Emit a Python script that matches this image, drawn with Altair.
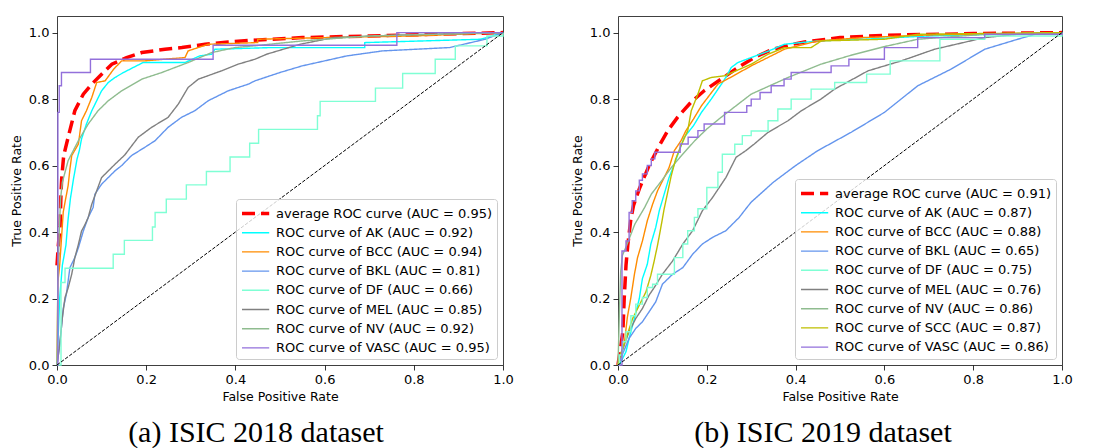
import altair as alt
import pandas as pd

# ---------------- (a) ISIC 2018 ----------------
L_LABELS = ["average ROC curve (AUC = 0.95)", "ROC curve of AK (AUC = 0.92)",
            "ROC curve of BCC (AUC = 0.94)", "ROC curve of BKL (AUC = 0.81)",
            "ROC curve of DF (AUC = 0.66)", "ROC curve of MEL (AUC = 0.85)",
            "ROC curve of NV (AUC = 0.92)", "ROC curve of VASC (AUC = 0.95)"]
L_COLORS = ["#ff0000", "#00ffff", "#ff8c00", "#6495ed", "#7fffd4", "#808080", "#8fbc8f", "#9370db"]
L_STEP = [False, False, False, False, True, False, False, True]

L_AVG_X = [0.0, 0.003, 0.007, 0.009, 0.0105, 0.015, 0.025, 0.04, 0.059, 0.078, 0.1, 0.123, 0.156, 0.19, 0.242, 0.28, 0.332, 0.384, 0.436, 0.55, 0.7, 0.85, 1.0]
L_AVG_Y = [0.3, 0.36, 0.42, 0.52, 0.56, 0.63, 0.685, 0.765, 0.815, 0.845, 0.875, 0.905, 0.925, 0.94, 0.95, 0.955, 0.965, 0.972, 0.977, 0.985, 0.99, 0.995, 1.0]
L_AK_X = [0, 0.003, 0.006, 0.012, 0.02, 0.025, 0.03, 0.037, 0.045, 0.05, 0.055, 0.066, 0.078, 0.089, 0.1, 0.115, 0.13, 0.149, 0.193, 0.287, 0.32, 0.347, 0.354, 0.48, 0.69, 0.69, 0.95, 1]
L_AK_Y = [0, 0.1, 0.2, 0.3, 0.36, 0.44, 0.5, 0.56, 0.62, 0.645, 0.68, 0.725, 0.765, 0.795, 0.825, 0.85, 0.865, 0.88, 0.91, 0.91, 0.93, 0.935, 0.95, 0.955, 0.955, 0.97, 0.98, 1]
L_BCC_X = [0, 0.002, 0.006, 0.01, 0.014, 0.018, 0.025, 0.029, 0.033, 0.048, 0.055, 0.066, 0.078, 0.089, 0.108, 0.127, 0.145, 0.197, 0.287, 0.294, 0.339, 0.45, 0.45, 0.6, 0.8, 1]
L_BCC_Y = [0, 0.25, 0.3, 0.38, 0.46, 0.49, 0.54, 0.59, 0.63, 0.665, 0.735, 0.765, 0.805, 0.85, 0.855, 0.89, 0.915, 0.915, 0.925, 0.945, 0.965, 0.97, 0.98, 0.985, 0.99, 1]
L_BKL_X = [0, 0.005, 0.009, 0.014, 0.021, 0.029, 0.04, 0.048, 0.059, 0.07, 0.081, 0.085, 0.1, 0.115, 0.13, 0.145, 0.167, 0.197, 0.22, 0.249, 0.279, 0.309, 0.339, 0.384, 0.429, 0.444, 0.5, 0.55, 0.65, 0.73, 0.88, 0.96, 1]
L_BKL_Y = [0, 0.05, 0.1, 0.17, 0.213, 0.293, 0.323, 0.353, 0.403, 0.444, 0.474, 0.514, 0.544, 0.564, 0.584, 0.6, 0.63, 0.655, 0.675, 0.715, 0.745, 0.765, 0.795, 0.825, 0.845, 0.855, 0.88, 0.9, 0.93, 0.945, 0.955, 0.98, 1]
L_DF_X = [0, 0.009, 0.018, 0.126, 0.151, 0.214, 0.22, 0.245, 0.29, 0.335, 0.388, 0.432, 0.452, 0.584, 0.59, 0.714, 0.775, 0.848, 0.893, 0.964, 1.0]
L_DF_Y = [0, 0.248, 0.291, 0.333, 0.375, 0.415, 0.459, 0.499, 0.542, 0.582, 0.626, 0.667, 0.709, 0.75, 0.793, 0.833, 0.877, 0.92, 0.96, 0.99, 1.0]
L_MEL_X = [0, 0.005, 0.009, 0.012, 0.018, 0.025, 0.033, 0.04, 0.048, 0.055, 0.063, 0.07, 0.078, 0.089, 0.1, 0.115, 0.13, 0.152, 0.182, 0.212, 0.249, 0.272, 0.294, 0.317, 0.369, 0.406, 0.444, 0.47, 0.545, 0.62, 0.77, 1]
L_MEL_Y = [0, 0.05, 0.1, 0.143, 0.203, 0.232, 0.273, 0.323, 0.363, 0.403, 0.423, 0.444, 0.484, 0.524, 0.564, 0.584, 0.604, 0.632, 0.685, 0.715, 0.745, 0.785, 0.835, 0.86, 0.885, 0.905, 0.92, 0.935, 0.965, 0.985, 0.993, 1]
L_NV_X = [0, 0.002, 0.005, 0.008, 0.012, 0.025, 0.048, 0.07, 0.092, 0.115, 0.145, 0.19, 0.235, 0.294, 0.347, 0.399, 0.44, 0.55, 0.7, 1]
L_NV_Y = [0, 0.25, 0.4, 0.5, 0.55, 0.615, 0.675, 0.725, 0.765, 0.795, 0.825, 0.86, 0.88, 0.91, 0.94, 0.955, 0.96, 0.975, 0.99, 1]
L_VASC_X = [0, 0.002, 0.005, 0.01, 0.075, 0.35, 0.762, 1]
L_VASC_Y = [0, 0.76, 0.84, 0.88, 0.92, 0.962, 1.0, 1.0]

# ---------------- (b) ISIC 2019 ----------------
R_LABELS = ["average ROC curve (AUC = 0.91)", "ROC curve of AK (AUC = 0.87)",
            "ROC curve of BCC (AUC = 0.88)", "ROC curve of BKL (AUC = 0.65)",
            "ROC curve of DF (AUC = 0.75)", "ROC curve of MEL (AUC = 0.76)",
            "ROC curve of NV (AUC = 0.86)", "ROC curve of SCC (AUC = 0.87)",
            "ROC curve of VASC (AUC = 0.86)"]
R_COLORS = ["#ff0000", "#00ffff", "#ff8c00", "#6495ed", "#7fffd4", "#808080", "#8fbc8f", "#bfbf00", "#9370db"]
R_STEP = [False, False, False, False, True, False, False, False, True]

R_AVG_X = [0, 0.011, 0.014, 0.018, 0.022, 0.029, 0.035, 0.048, 0.07, 0.093, 0.112, 0.134, 0.164, 0.194, 0.232, 0.27, 0.307, 0.345, 0.383, 0.42, 0.5, 0.6, 0.8, 1]
R_AVG_Y = [0, 0.1, 0.2, 0.3, 0.36, 0.44, 0.48, 0.53, 0.6, 0.66, 0.705, 0.745, 0.79, 0.825, 0.86, 0.895, 0.925, 0.948, 0.962, 0.972, 0.985, 0.992, 0.997, 1]
R_AK_X = [0, 0.003, 0.018, 0.025, 0.037, 0.048, 0.055, 0.066, 0.074, 0.085, 0.093, 0.104, 0.115, 0.127, 0.138, 0.149, 0.17, 0.188, 0.21, 0.233, 0.245, 0.255, 0.27, 0.3, 0.34, 0.375, 0.45, 0.55, 0.7, 1]
R_AK_Y = [0, 0, 0.04, 0.08, 0.14, 0.2, 0.26, 0.303, 0.364, 0.414, 0.464, 0.514, 0.564, 0.604, 0.645, 0.685, 0.72, 0.76, 0.8, 0.845, 0.87, 0.895, 0.91, 0.925, 0.945, 0.965, 0.975, 0.98, 0.99, 1]
R_BCC_X = [0, 0.005, 0.014, 0.021, 0.029, 0.037, 0.044, 0.055, 0.066, 0.078, 0.089, 0.104, 0.115, 0.127, 0.142, 0.153, 0.17, 0.188, 0.225, 0.26, 0.3, 0.375, 0.45, 0.55, 0.7, 1]
R_BCC_Y = [0, 0.02, 0.062, 0.143, 0.203, 0.273, 0.323, 0.373, 0.434, 0.484, 0.524, 0.564, 0.594, 0.645, 0.675, 0.705, 0.74, 0.78, 0.845, 0.87, 0.9, 0.95, 0.975, 0.985, 0.993, 1]
R_BKL_X = [0, 0.003, 0.025, 0.04, 0.055, 0.07, 0.085, 0.1, 0.123, 0.146, 0.168, 0.19, 0.213, 0.243, 0.273, 0.288, 0.3, 0.35, 0.4, 0.45, 0.525, 0.6, 0.675, 0.75, 0.826, 0.9, 0.94, 1]
R_BKL_Y = [0, 0.01, 0.08, 0.11, 0.13, 0.16, 0.19, 0.243, 0.273, 0.293, 0.333, 0.364, 0.384, 0.404, 0.444, 0.47, 0.49, 0.55, 0.6, 0.645, 0.7, 0.76, 0.84, 0.89, 0.95, 0.98, 0.995, 1]
R_DF_X = [0, 0.003, 0.01, 0.018, 0.029, 0.04, 0.055, 0.066, 0.078, 0.089, 0.127, 0.146, 0.157, 0.172, 0.18, 0.2, 0.225, 0.235, 0.263, 0.28, 0.3, 0.338, 0.36, 0.39, 0.435, 0.488, 0.56, 0.613, 0.725, 0.826, 1]
R_DF_Y = [0, 0.03, 0.07, 0.1, 0.148, 0.183, 0.203, 0.233, 0.243, 0.273, 0.323, 0.364, 0.404, 0.444, 0.47, 0.534, 0.58, 0.634, 0.664, 0.69, 0.704, 0.735, 0.77, 0.8, 0.83, 0.85, 0.875, 0.915, 0.98, 0.99, 1]
R_MEL_X = [0, 0.003, 0.025, 0.04, 0.055, 0.07, 0.085, 0.1, 0.123, 0.146, 0.168, 0.19, 0.213, 0.243, 0.266, 0.288, 0.307, 0.338, 0.383, 0.413, 0.457, 0.488, 0.563, 0.638, 0.713, 0.826, 0.9, 1]
R_MEL_Y = [0, 0.02, 0.1, 0.14, 0.17, 0.21, 0.24, 0.273, 0.313, 0.364, 0.404, 0.464, 0.504, 0.564, 0.625, 0.645, 0.665, 0.7, 0.735, 0.765, 0.8, 0.83, 0.885, 0.915, 0.95, 0.985, 0.995, 1]
R_NV_X = [0, 0.003, 0.006, 0.01, 0.018, 0.038, 0.06, 0.075, 0.098, 0.12, 0.143, 0.173, 0.2, 0.232, 0.3, 0.383, 0.457, 0.525, 0.6, 0.675, 0.826, 1]
R_NV_Y = [0, 0.15, 0.28, 0.33, 0.355, 0.424, 0.474, 0.514, 0.554, 0.594, 0.63, 0.675, 0.71, 0.745, 0.815, 0.865, 0.905, 0.932, 0.958, 0.98, 0.995, 1]
R_SCC_X = [0, 0.005, 0.018, 0.033, 0.048, 0.063, 0.074, 0.081, 0.089, 0.096, 0.104, 0.112, 0.12, 0.13, 0.142, 0.157, 0.165, 0.18, 0.19, 0.21, 0.24, 0.3, 0.338, 0.375, 0.435, 0.458, 0.6, 0.675, 1]
R_SCC_Y = [0, 0.03, 0.08, 0.14, 0.18, 0.22, 0.27, 0.31, 0.36, 0.41, 0.47, 0.52, 0.57, 0.62, 0.66, 0.705, 0.765, 0.815, 0.855, 0.865, 0.87, 0.905, 0.935, 0.955, 0.955, 0.975, 0.98, 0.995, 1]
R_VASC_X = [0, 0.009, 0.018, 0.025, 0.032, 0.04, 0.048, 0.055, 0.066, 0.075, 0.083, 0.14, 0.158, 0.18, 0.194, 0.24, 0.29, 0.3, 0.32, 0.345, 0.374, 0.39, 0.48, 0.52, 0.6, 0.675, 0.826, 1]
R_VASC_Y = [0, 0.343, 0.373, 0.459, 0.494, 0.524, 0.556, 0.575, 0.6, 0.62, 0.64, 0.665, 0.685, 0.705, 0.725, 0.76, 0.78, 0.8, 0.82, 0.84, 0.86, 0.88, 0.9, 0.92, 0.955, 0.985, 0.995, 1]

TICKS = [0.0, 0.2, 0.4, 0.6, 0.8, 1.0]
DIAG = [0.0, 1.0]


def panel(labels, colors, steps, xs, ys, caption, dx, w):
    rows = []
    for k, (lab, st, xv, yv) in enumerate(zip(labels, steps, xs, ys)):
        kind = "avg" if k == 0 else ("step" if st else "lin")
        for i, (a, b) in enumerate(zip(xv, yv)):
            rows.append({"series": lab, "kind": kind, "i": i, "fpr": a, "tpr": b})
    df = pd.DataFrame(rows)
    n = len(labels)
    leg = alt.Legend(title=None, orient="bottom-right", offset=6,
                     symbolType="M-1,0H2.2", symbolSize=289,
                     labelFont="DejaVu Sans", labelFontSize=13, labelColor="black",
                     labelOffset=15, rowPadding=2.2, padding=4, labelLimit=400,
                     strokeColor="#cccccc", fillColor="rgba(255,255,255,0.8)",
                     cornerRadius=3)
    xenc = alt.X("fpr:Q", scale=alt.Scale(domain=[0, 1], nice=False),
                 axis=alt.Axis(title="False Positive Rate", values=TICKS, format=".1f",
                               labelFlush=False, labelOverlap=False, grid=False))
    yenc = alt.Y("tpr:Q", scale=alt.Scale(domain=[0, 1.05], nice=False),
                 axis=alt.Axis(title="True Positive Rate", values=TICKS, format=".1f",
                               labelFlush=False, labelOverlap=False, grid=False,
                               titlePadding=4.5))
    enc = dict(
        x=xenc, y=yenc,
        color=alt.Color("series:N", scale=alt.Scale(domain=labels, range=colors), legend=leg),
        strokeDash=alt.StrokeDash("series:N", scale=alt.Scale(domain=labels, range=[[13, 6]] + [[1, 0]] * (n - 1)), legend=leg),
        strokeWidth=alt.StrokeWidth("series:N", scale=alt.Scale(type="ordinal", domain=labels, range=[3.5] + [1.4] * (n - 1)), legend=leg),
        order=alt.Order("i:Q"),
        detail="series:N",
    )
    base = alt.Chart(df)
    avg = base.transform_filter("datum.kind == 'avg'").mark_line().encode(**enc)
    lin = base.transform_filter("datum.kind == 'lin'").mark_line().encode(**enc)
    stp = base.transform_filter("datum.kind == 'step'").mark_line(interpolate="step-after").encode(**enc)
    diag = alt.Chart(pd.DataFrame({"fpr": DIAG, "tpr": DIAG})).mark_line(
        color="black", strokeDash=[3.5, 1.6], strokeWidth=1).encode(x="fpr:Q", y="tpr:Q")
    return alt.layer(avg, lin, stp, diag).properties(
        width=w, height=349,
        title=alt.TitleParams(caption, orient="bottom", font="Liberation Serif", fontSize=30,
                              fontWeight="normal", color="black", offset=15, dx=dx, anchor="middle"))


left = panel(L_LABELS, L_COLORS, L_STEP,
             [L_AVG_X, L_AK_X, L_BCC_X, L_BKL_X, L_DF_X, L_MEL_X, L_NV_X, L_VASC_X],
             [L_AVG_Y, L_AK_Y, L_BCC_Y, L_BKL_Y, L_DF_Y, L_MEL_Y, L_NV_Y, L_VASC_Y],
             "(a) ISIC 2018 dataset", -24, 446)
right = panel(R_LABELS, R_COLORS, R_STEP,
              [R_AVG_X, R_AK_X, R_BCC_X, R_BKL_X, R_DF_X, R_MEL_X, R_NV_X, R_SCC_X, R_VASC_X],
              [R_AVG_Y, R_AK_Y, R_BCC_Y, R_BKL_Y, R_DF_Y, R_MEL_Y, R_NV_Y, R_SCC_Y, R_VASC_Y],
              "(b) ISIC 2019 dataset", -17, 444)

chart = alt.hconcat(left, right, spacing=57).resolve_scale(
    color="independent", strokeDash="independent", strokeWidth="independent"
).properties(
    padding={"left": 2, "top": 7, "right": 5, "bottom": 0},
    background="white",
).configure_view(stroke="#404040", strokeWidth=1).configure_axis(
    grid=False, domain=False, tickSize=5, tickColor="black", tickWidth=0.8,
    labelFont="DejaVu Sans", labelFontSize=13, labelColor="black", labelPadding=3,
    titleFont="DejaVu Sans", titleFontSize=12.5, titleFontWeight="normal", titleColor="black",
    titlePadding=4
)

chart.save("out.html", embed_options={"renderer": "svg", "actions": False})
